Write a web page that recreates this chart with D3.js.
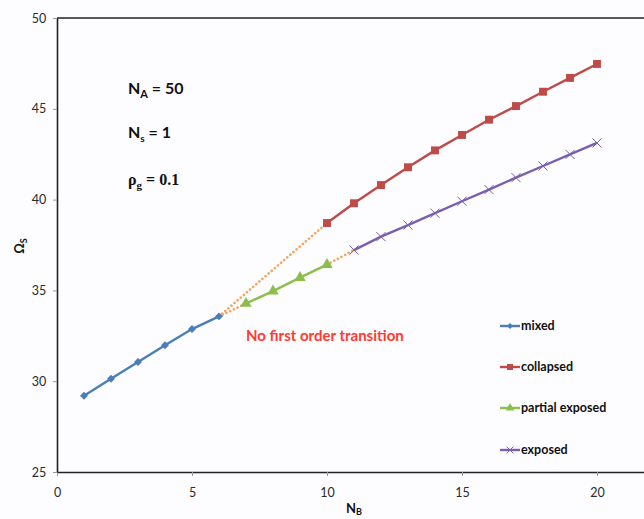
<!DOCTYPE html>
<html>
<head>
<meta charset="utf-8">
<script src="https://cdn.jsdelivr.net/npm/d3@7"></script>
<style>
  body { margin: 0; background: #fdfdff; }
  svg { display: block; }
</style>
</head>
<body>
<svg id="drawing_region"></svg>
<script>
// values
const mixed_x = [1, 2, 3, 4, 5, 6];
const mixed_y = [29.2, 30.13, 31.06, 31.98, 32.87, 33.57];

const collapsed_x = [10, 11, 12, 13, 14, 15, 16, 17, 18, 19, 20];
const collapsed_y = [38.71, 39.8, 40.8, 41.78, 42.71, 43.56, 44.4, 45.15, 45.94, 46.7, 47.47];

const partial_x = [7, 8, 9, 10];
const partial_y = [34.28, 34.96, 35.7, 36.42];

const exposed_x = [11, 12, 13, 14, 15, 16, 17, 18, 19, 20];
const exposed_y = [37.22, 37.96, 38.6, 39.25, 39.91, 40.55, 41.21, 41.85, 42.49, 43.12];

// dotted transition links (from point, to point)
const links = [
    [[6, 33.57], [7, 34.28]],
    [[6, 33.57], [10, 38.71]],
    [[10, 36.42], [11, 37.22]]
];

const x_ticks = [0, 5, 10, 15, 20];
const y_ticks = [25, 30, 35, 40, 45, 50];

const series = [
    {name: 'mixed', xs: mixed_x, ys: mixed_y, color: '#4a7ebb', marker: 'diamond'},
    {name: 'collapsed', xs: collapsed_x, ys: collapsed_y, color: '#be4b48', marker: 'square'},
    {name: 'partial exposed', xs: partial_x, ys: partial_y, color: '#8cbf4a', marker: 'triangle'},
    {name: 'exposed', xs: exposed_x, ys: exposed_y, color: '#7a5fb0', marker: 'cross'}
];

const width = 644, height = 519;
const margin = {top: 18, left: 57, bottom: 47};

const svg = d3.select('#drawing_region')
    .attr('width', width)
    .attr('height', height);

const xscale = d3.scaleLinear()
    .domain([0, 22])
    .range([margin.left, margin.left + 22 * 27]);

const yscale = d3.scaleLinear()
    .domain([25, 50])
    .range([height - margin.bottom, margin.top]);

// axes
const xaxis = d3.axisBottom(xscale).tickValues(x_ticks).tickSize(4).tickSizeOuter(0);
const yaxis = d3.axisLeft(yscale).tickValues(y_ticks).tickSize(4).tickSizeOuter(0);

const xg = svg.append('g')
    .attr('transform', `translate(0, ${yscale(25)})`)
    .call(xaxis);
const yg = svg.append('g')
    .attr('transform', `translate(${xscale(0)}, 0)`)
    .call(yaxis);

[xg, yg].forEach(g => {
    g.select('.domain').attr('stroke', '#222').attr('stroke-width', 1.6);
    g.selectAll('.tick line').attr('stroke', '#999');
    g.selectAll('.tick text')
        .attr('fill', '#2a2a2a')
        .style('font-family', 'Lato, sans-serif')
        .style('font-size', '12.5px');
});
xg.selectAll('.tick text').attr('dy', '1.4em');
yg.selectAll('.tick text').attr('dx', '-0.3em');

// top border of plot area
svg.append('line')
    .attr('x1', xscale(0)).attr('x2', width)
    .attr('y1', yscale(50)).attr('y2', yscale(50))
    .attr('stroke', '#222').attr('stroke-width', 1.6);

// dotted transition links
const line = d3.line()
    .x(d => xscale(d[0]))
    .y(d => yscale(d[1]));

svg.append('g').selectAll('path')
    .data(links)
    .join('path')
    .attr('d', d => line(d))
    .attr('fill', 'none')
    .attr('stroke', '#f7a55a')
    .attr('stroke-width', 2.6)
    .attr('stroke-linecap', 'round')
    .attr('stroke-dasharray', '0.1 4');

// markers
function drawMarker(g, type, color, size) {
    if (type === 'diamond') {
        g.append('path').attr('d', d3.symbol(d3.symbolSquare, size * 4.5)())
            .attr('transform', 'rotate(45)').attr('fill', color);
    } else if (type === 'square') {
        g.append('path').attr('d', d3.symbol(d3.symbolSquare, size * 9)()).attr('fill', color);
    } else if (type === 'triangle') {
        g.append('path').attr('d', d3.symbol(d3.symbolTriangle, size * 8)()).attr('fill', color);
    } else {
        g.append('path').attr('d', d3.symbol(d3.symbolX, size * 8)())
            .attr('fill', 'none').attr('stroke', color).attr('stroke-width', 1);
    }
}

series.forEach(s => {
    const pts = s.xs.map((x, i) => [x, s.ys[i]]);
    svg.append('path')
        .attr('d', line(pts))
        .attr('fill', 'none')
        .attr('stroke', s.color)
        .attr('stroke-width', 2.4);
    pts.forEach(p => {
        const g = svg.append('g')
            .attr('transform', `translate(${xscale(p[0])}, ${yscale(p[1])})`);
        drawMarker(g, s.marker, s.color, 7);
    });
});

// legend
const legend = svg.append('g').attr('transform', 'translate(500, 0)');
const legend_y = [326, 367, 408, 450];
series.forEach((s, i) => {
    const g = legend.append('g').attr('transform', `translate(0, ${legend_y[i]})`);
    g.append('line').attr('x1', 0).attr('x2', 20)
        .attr('stroke', s.color).attr('stroke-width', 2.4);
    const m = g.append('g').attr('transform', 'translate(10, 0)');
    drawMarker(m, s.marker, s.color, 4);
    g.append('text')
        .attr('x', 21).attr('y', 4)
        .attr('fill', '#111')
        .style('font-family', 'Lato, sans-serif')
        .style('font-size', '12.5px')
        .style('font-weight', 'bold')
        .text(s.name);
});

// annotations
const ann = svg.append('g')
    .style('font-family', 'Lato, sans-serif')
    .style('font-weight', 'bold')
    .attr('fill', '#111');

const na = ann.append('text').attr('x', 128).attr('y', 94).style('font-size', '16px');
na.append('tspan').text('N');
na.append('tspan').attr('dy', 4).style('font-size', '11px').text('A');
na.append('tspan').attr('dy', -4).text(' = 50');

const ns = ann.append('text').attr('x', 128).attr('y', 138).style('font-size', '16px');
ns.append('tspan').text('N');
ns.append('tspan').attr('dy', 4).style('font-size', '10px').text('s');
ns.append('tspan').attr('dy', -4).text(' = 1');

const rho = ann.append('text').attr('x', 128).attr('y', 185)
    .style('font-family', '"Liberation Serif", serif')
    .style('font-size', '16px');
rho.append('tspan').text('ρ');
rho.append('tspan').attr('dy', 4).style('font-size', '11px').text('g');
rho.append('tspan').attr('dy', -4).text(' = 0.1');

svg.append('text')
    .attr('x', 246).attr('y', 341)
    .attr('fill', '#ff3b30')
    .style('font-family', 'Lato, sans-serif')
    .style('font-size', '15px')
    .style('font-weight', 'bold')
    .text('No first order transition');

// axis titles
const yt = svg.append('text')
    .attr('transform', 'translate(24, 246) rotate(-90)')
    .attr('text-anchor', 'middle')
    .attr('fill', '#111')
    .style('font-family', 'Lato, sans-serif')
    .style('font-weight', 'bold')
    .style('font-size', '13px');
yt.append('tspan').text('Ω');
yt.append('tspan').attr('dy', 3).style('font-size', '9px').text('S');

const xt = svg.append('text')
    .attr('x', 346).attr('y', 513)
    .attr('fill', '#111')
    .style('font-family', 'Lato, sans-serif')
    .style('font-weight', 'bold')
    .style('font-size', '13px');
xt.append('tspan').text('N');
xt.append('tspan').attr('dy', 2).style('font-size', '9px').text('B');
</script>
</body>
</html>
